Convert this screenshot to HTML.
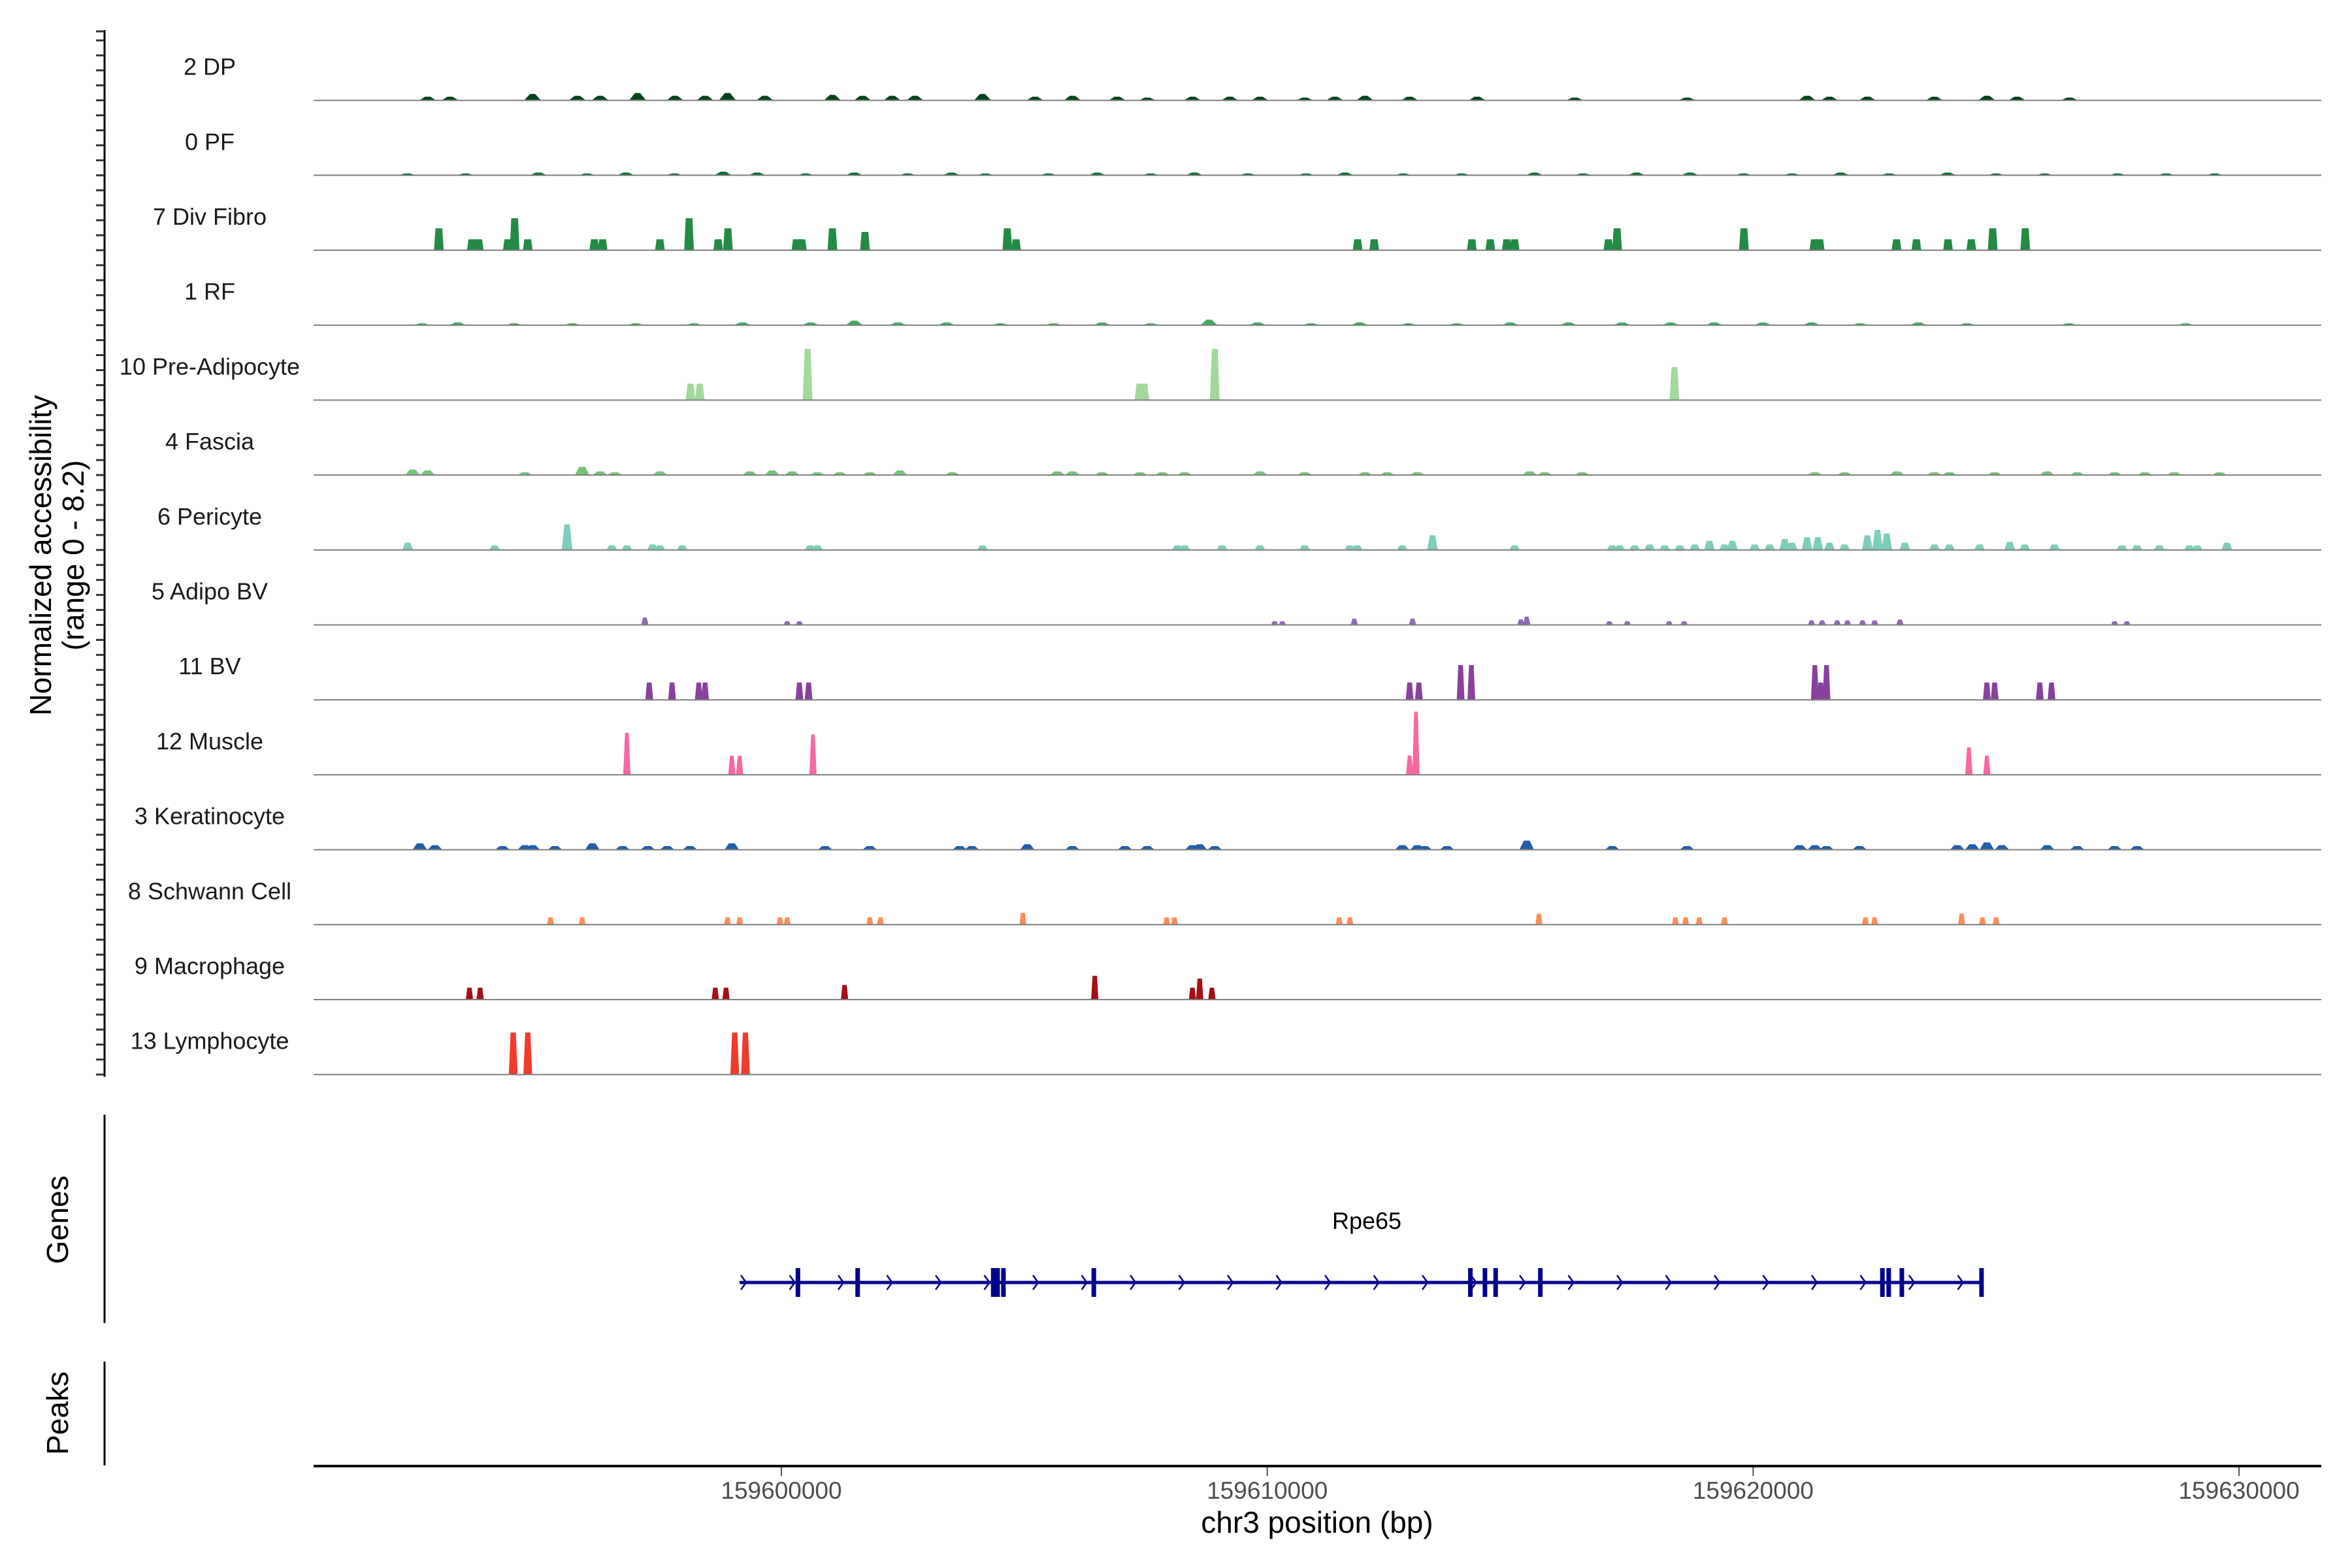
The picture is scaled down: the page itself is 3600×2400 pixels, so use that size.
<!DOCTYPE html>
<html><head><meta charset="utf-8">
<style>
html,body{margin:0;padding:0;background:#fff;}
svg{display:block;font-family:"Liberation Sans",sans-serif;}
</style></head>
<body>
<svg id="chart" width="3600" height="2400" viewBox="0 0 3600 2400" xmlns="http://www.w3.org/2000/svg">
  <rect x="0" y="0" width="3600" height="2400" fill="#fff"/>
  <g id="tracks"></g>
  <line x1="160" y1="46" x2="160" y2="1648" stroke="#000" stroke-width="3"/>
  <g id="yticks"></g>
  <text transform="translate(78,850) rotate(-90)" text-anchor="middle" font-size="46">Normalized accessibility</text>
  <text transform="translate(128,850) rotate(-90)" text-anchor="middle" font-size="46">(range 0 - 8.2)</text>

  <line x1="160" y1="1706" x2="160" y2="2025" stroke="#000" stroke-width="3"/>
  <text transform="translate(104,1867) rotate(-90)" text-anchor="middle" font-size="46">Genes</text>
  <g id="gene"></g>
  <text x="2092" y="1881" text-anchor="middle" font-size="36">Rpe65</text>

  <line x1="160" y1="2084" x2="160" y2="2243" stroke="#000" stroke-width="3"/>
  <text transform="translate(104,2163) rotate(-90)" text-anchor="middle" font-size="46">Peaks</text>

  <line x1="480" y1="2244" x2="3553" y2="2244" stroke="#000" stroke-width="4"/>
  <g id="xticks"></g>
  <text x="2016" y="2346" text-anchor="middle" font-size="46">chr3 position (bp)</text>
</svg>
<script>
// ---- data (positions in kb on chr3, heights in normalized accessibility) ----
const trackNames = ["2 DP","0 PF","7 Div Fibro","1 RF","10 Pre-Adipocyte","4 Fascia","6 Pericyte","5 Adipo BV","11 BV","12 Muscle","3 Keratinocyte","8 Schwann Cell","9 Macrophage","13 Lymphocyte"];
const trackColors = ["#00441b","#006d2c","#238b45","#41ab5d","#a1d99b","#74c476","#7fcdbb","#8c6bb1","#88419d","#f768a1","#225ea8","#fc8d59","#a50f15","#ef3b2c"];
const trackWidths = [0.35,0.35,0.2,0.35,0.2,0.3,0.22,0.15,0.16,0.15,0.3,0.14,0.15,0.18];

const dpPos = [-7.28,-6.82,-5.12,-4.20,-3.73,-2.96,-2.19,-1.57,-1.11,-0.34,1.05,1.67,2.28,2.75,4.14,5.22,5.99,6.91,7.53,8.46,9.23,9.85,10.77,11.39,12.01,12.93,14.32,16.33,18.64,21.11,21.57,22.35,23.73,24.81,25.43,26.51];
const dpH   = [0.4,0.4,0.7,0.5,0.5,0.8,0.5,0.5,0.8,0.5,0.6,0.5,0.5,0.5,0.7,0.4,0.5,0.4,0.3,0.4,0.4,0.4,0.3,0.4,0.5,0.4,0.4,0.3,0.3,0.5,0.4,0.4,0.4,0.5,0.4,0.3];
const pfPos = [-7.7,-6.5,-5.0,-4.0,-3.2,-2.2,-1.2,-0.5,0.5,1.5,2.6,3.5,4.2,5.5,6.5,7.6,8.5,9.6,10.8,11.6,12.8,14.0,15.5,16.5,17.6,18.7,19.8,20.8,21.8,22.8,24.0,25.0,26.0,27.5,28.5,29.5];
const pfH   = [0.2,0.2,0.3,0.2,0.3,0.2,0.4,0.3,0.2,0.3,0.2,0.3,0.2,0.2,0.3,0.2,0.3,0.2,0.2,0.3,0.2,0.2,0.3,0.2,0.3,0.3,0.2,0.2,0.3,0.2,0.3,0.2,0.2,0.2,0.2,0.2];
const dfPos = [-7.05,-6.37,-6.23,-5.63,-5.49,-5.22,-3.85,-3.68,-2.50,-1.90,-1.30,-1.10,0.31,0.42,1.05,1.72,4.65,4.83,11.86,12.20,14.21,14.59,14.93,15.09,17.02,17.20,19.81,21.26,21.37,22.95,23.36,24.01,24.49,24.93,25.60];
const dfH   = [2.4,1.2,1.2,1.2,3.5,1.2,1.2,1.2,1.2,3.5,1.2,2.4,1.2,1.2,2.4,2.0,2.4,1.2,1.2,1.2,1.2,1.2,1.2,1.2,1.2,2.4,2.4,1.2,1.2,1.2,1.2,1.2,1.2,2.4,2.4];
const rfPos = [-7.4,-6.66,-5.5,-4.3,-3.0,-1.8,-0.8,0.6,1.5,2.4,3.4,4.5,5.6,6.6,7.6,8.8,9.8,10.9,11.9,12.9,13.9,15.0,16.2,17.3,18.3,19.2,20.2,21.2,22.2,23.4,24.4,26.5,28.9];
const rfH   = [0.2,0.3,0.2,0.2,0.2,0.2,0.3,0.3,0.5,0.3,0.3,0.2,0.2,0.3,0.2,0.6,0.3,0.2,0.3,0.2,0.2,0.3,0.3,0.3,0.3,0.3,0.3,0.3,0.2,0.3,0.2,0.2,0.2];
const paPos = [-1.87,-1.68,0.54,7.37,7.47,8.92,18.38];
const paH   = [1.8,1.8,5.6,1.8,1.8,5.6,3.6];
const faPos = [-7.59,-7.28,-5.28,-4.10,-3.73,-3.43,-2.50,-0.65,-0.19,0.22,0.74,1.20,1.82,2.44,3.52,5.68,5.99,6.60,7.38,7.84,8.30,9.85,10.77,12.01,12.47,13.09,15.40,15.71,16.48,21.27,21.88,22.96,23.73,24.04,24.97,26.05,26.67,27.44,28.06,28.67,29.60];
const faH   = [0.6,0.5,0.3,0.9,0.4,0.3,0.4,0.4,0.5,0.4,0.3,0.3,0.3,0.5,0.3,0.4,0.4,0.3,0.3,0.3,0.3,0.4,0.3,0.3,0.3,0.3,0.4,0.3,0.3,0.3,0.3,0.4,0.3,0.3,0.3,0.4,0.3,0.3,0.3,0.3,0.3];
const pePos = [-7.69,-5.90,-4.41,-3.49,-3.18,-2.65,-2.50,-2.04,0.59,0.74,4.14,8.15,8.30,9.07,9.85,10.77,11.70,11.85,12.78,13.40,15.09,17.10,17.25,17.56,17.87,18.18,18.49,18.80,19.10,19.41,19.57,20.03,20.34,20.65,20.80,21.11,21.33,21.57,21.88,22.35,22.56,22.75,23.12,23.73,24.04,24.66,25.28,25.59,26.20,27.59,27.90,28.36,28.98,29.14,29.75];
const peH   = [0.8,0.5,2.8,0.5,0.5,0.6,0.5,0.5,0.5,0.5,0.5,0.5,0.5,0.5,0.5,0.5,0.5,0.5,0.5,1.6,0.5,0.5,0.5,0.5,0.6,0.5,0.5,0.6,1.0,0.6,1.0,0.6,0.6,1.2,0.8,1.4,1.4,0.8,0.6,1.6,2.2,1.8,0.8,0.6,0.6,0.6,0.9,0.6,0.6,0.5,0.5,0.5,0.5,0.5,0.8];
const abPos = [-2.81,0.12,0.37,10.15,10.31,11.79,12.99,15.22,15.34,17.04,17.41,18.27,18.58,21.20,21.42,21.73,21.94,22.25,22.50,23.02,27.44,27.69];
const abH   = [0.8,0.4,0.4,0.4,0.4,0.7,0.7,0.6,0.9,0.4,0.4,0.4,0.4,0.5,0.5,0.5,0.5,0.5,0.5,0.6,0.4,0.4];
const bvPos = [-2.72,-2.25,-1.70,-1.57,0.37,0.56,12.93,13.12,13.98,14.20,21.27,21.39,21.51,24.81,24.97,25.90,26.14];
const bvH   = [1.9,1.9,1.9,1.9,1.9,1.9,1.9,1.9,3.8,3.8,3.8,1.9,3.8,1.9,1.9,1.9,1.9];
const muPos = [-3.18,-1.02,-0.86,0.65,12.93,13.06,24.44,24.81];
const muH   = [4.6,2.1,2.1,4.4,2.1,6.9,3.0,2.1];
const kePos = [-7.44,-7.13,-5.74,-5.28,-5.12,-4.66,-3.89,-3.27,-2.75,-2.35,-1.88,-1.02,0.90,1.82,3.67,3.92,5.06,5.99,7.07,7.53,8.46,8.61,8.92,12.78,13.09,13.24,13.70,15.34,17.10,18.64,20.96,21.27,21.51,22.19,24.20,24.51,24.81,25.12,26.05,26.67,27.44,27.90];
const keH   = [0.7,0.5,0.4,0.5,0.5,0.4,0.7,0.4,0.4,0.4,0.4,0.7,0.4,0.4,0.4,0.4,0.6,0.4,0.4,0.4,0.5,0.6,0.4,0.5,0.5,0.4,0.4,1.0,0.4,0.4,0.5,0.5,0.4,0.4,0.5,0.6,0.8,0.5,0.5,0.4,0.4,0.4];
const swPos = [-4.75,-4.10,-1.11,-0.86,-0.03,0.12,1.82,2.04,4.97,7.93,8.09,11.48,11.70,15.59,18.40,18.61,18.89,19.41,22.31,22.50,24.29,24.72,25.00];
const swH   = [0.8,0.8,0.8,0.8,0.8,0.8,0.8,0.8,1.3,0.8,0.8,0.8,0.8,1.2,0.8,0.8,0.8,0.8,0.8,0.8,1.2,0.8,0.8];
const maPos = [-6.42,-6.20,-1.36,-1.14,1.30,6.45,8.46,8.61,8.86];
const maH   = [1.3,1.3,1.3,1.3,1.6,2.6,1.3,2.3,1.3];
const lyPos = [-5.52,-5.22,-0.96,-0.74];
const lyH   = [4.6,4.6,4.6,4.6];

const trackPos = [dpPos,pfPos,dfPos,rfPos,paPos,faPos,pePos,abPos,bvPos,muPos,kePos,swPos,maPos,lyPos];
const trackH   = [dpH,pfH,dfH,rfH,paH,faH,peH,abH,bvH,muH,keH,swH,maH,lyH];
const trackTop = [0.3,0.3,0.7,0.3,0.6,0.4,0.5,0.5,0.6,0.5,0.4,0.6,0.6,0.6];

const geneStart = -0.86, geneEnd = 24.73;
const exonPos = [0.34,1.57,4.36,4.45,4.57,6.43,14.18,14.48,14.70,15.62,22.66,22.79,23.06,24.70];
const xTicks = [159600000,159610000,159620000,159630000];
const xTickLabels = ["159600000","159610000","159620000","159630000"];

// ---- scales ----
const REF = 159600; // kb
const X0 = 1196, PXKB = 74.37;
function xs(kbOffset){ return X0 + kbOffset*PXKB; }
function xbp(bp){ return X0 + (bp/1000 - REF)*PXKB; }
const BASE0 = 153.6, TRACK_H = 114.7, YMAX = 8.2;
function ys(v){ return v*TRACK_H/YMAX; }

const NS = "http://www.w3.org/2000/svg";
function mk(tag, attrs){ const e=document.createElementNS(NS,tag); for(const k in attrs) e.setAttribute(k,attrs[k]); return e; }

const tracksG = document.getElementById('tracks');
trackNames.forEach((name,i)=>{
  const base = BASE0 + i*TRACK_H;
  const g = mk('g',{});
  
  
  const lab = mk('text',{x:321,y:base-39,'text-anchor':'middle','font-size':36,fill:'#1a1a1a'});
  
  
  lab.textContent = name;
  g.appendChild(lab);
  const w = trackWidths[i]*PXKB;
  const tf = trackTop[i];
  trackPos[i].forEach((p,j)=>{
    const cx = xs(p), h = ys(trackH[i][j]);
    const top = base - h;
    const pts = [[cx-w/2,base],[cx-w*tf/2,top],[cx+w*tf/2,top],[cx+w/2,base]].map(q=>q[0].toFixed(1)+','+q[1].toFixed(1)).join(' ');
    const pk = mk('polygon',{points:pts,fill:trackColors[i]});
    
    
    g.appendChild(pk);
  });
  const bl = mk('line',{x1:480,y1:base,x2:3553,y2:base,stroke:'#7f7f7f','stroke-width':2});
  
  
  g.appendChild(bl);
  tracksG.appendChild(g);
});

// y ticks (decorative minor ticks)
const yt = document.getElementById('yticks');
for(let i=0;i<14;i++){
  for(let k=0;k<5;k++){
    const y = BASE0 + i*TRACK_H - k*TRACK_H/5;
    const t = mk('line',{x1:147,y1:y,x2:160,y2:y,stroke:'#333','stroke-width':3});
    
    
    yt.appendChild(t);
  }
}
{ const t = mk('line',{x1:147,y1:48,x2:160,y2:48,stroke:'#333','stroke-width':3});   yt.appendChild(t); }

// gene model
const gg = document.getElementById('gene');
const GY = 1963;
const gl = mk('line',{x1:xs(geneStart),y1:GY,x2:xs(geneEnd),y2:GY,stroke:'#00008b','stroke-width':5});


gg.appendChild(gl);
for(let x=xs(geneStart)+6; x<xs(geneEnd)-20; x+=74.5){
  const ch = mk('polyline',{points:`${x-4},${GY-11} ${x+4},${GY} ${x-4},${GY+11}`,fill:'none',stroke:'#00008b','stroke-width':2.5});
  
  
  gg.appendChild(ch);
}
exonPos.forEach(p=>{
  const ex = mk('rect',{x:xs(p)-3.5,y:1941,width:7,height:44,fill:'#00008b'});
  
  
  gg.appendChild(ex);
});

// x ticks
const xt = document.getElementById('xticks');
xTicks.forEach((t,i)=>{
  const x = xbp(t);
  const tk = mk('line',{x1:x,y1:2246,x2:x,y2:2259,stroke:'#4d4d4d','stroke-width':2});
  
  
  xt.appendChild(tk);
  const lb = mk('text',{x:x,y:2294,'text-anchor':'middle','font-size':37,fill:'#4d4d4d'});
  
  
  lb.textContent = xTickLabels[i];
  xt.appendChild(lb);
});
</script>
</body></html>
